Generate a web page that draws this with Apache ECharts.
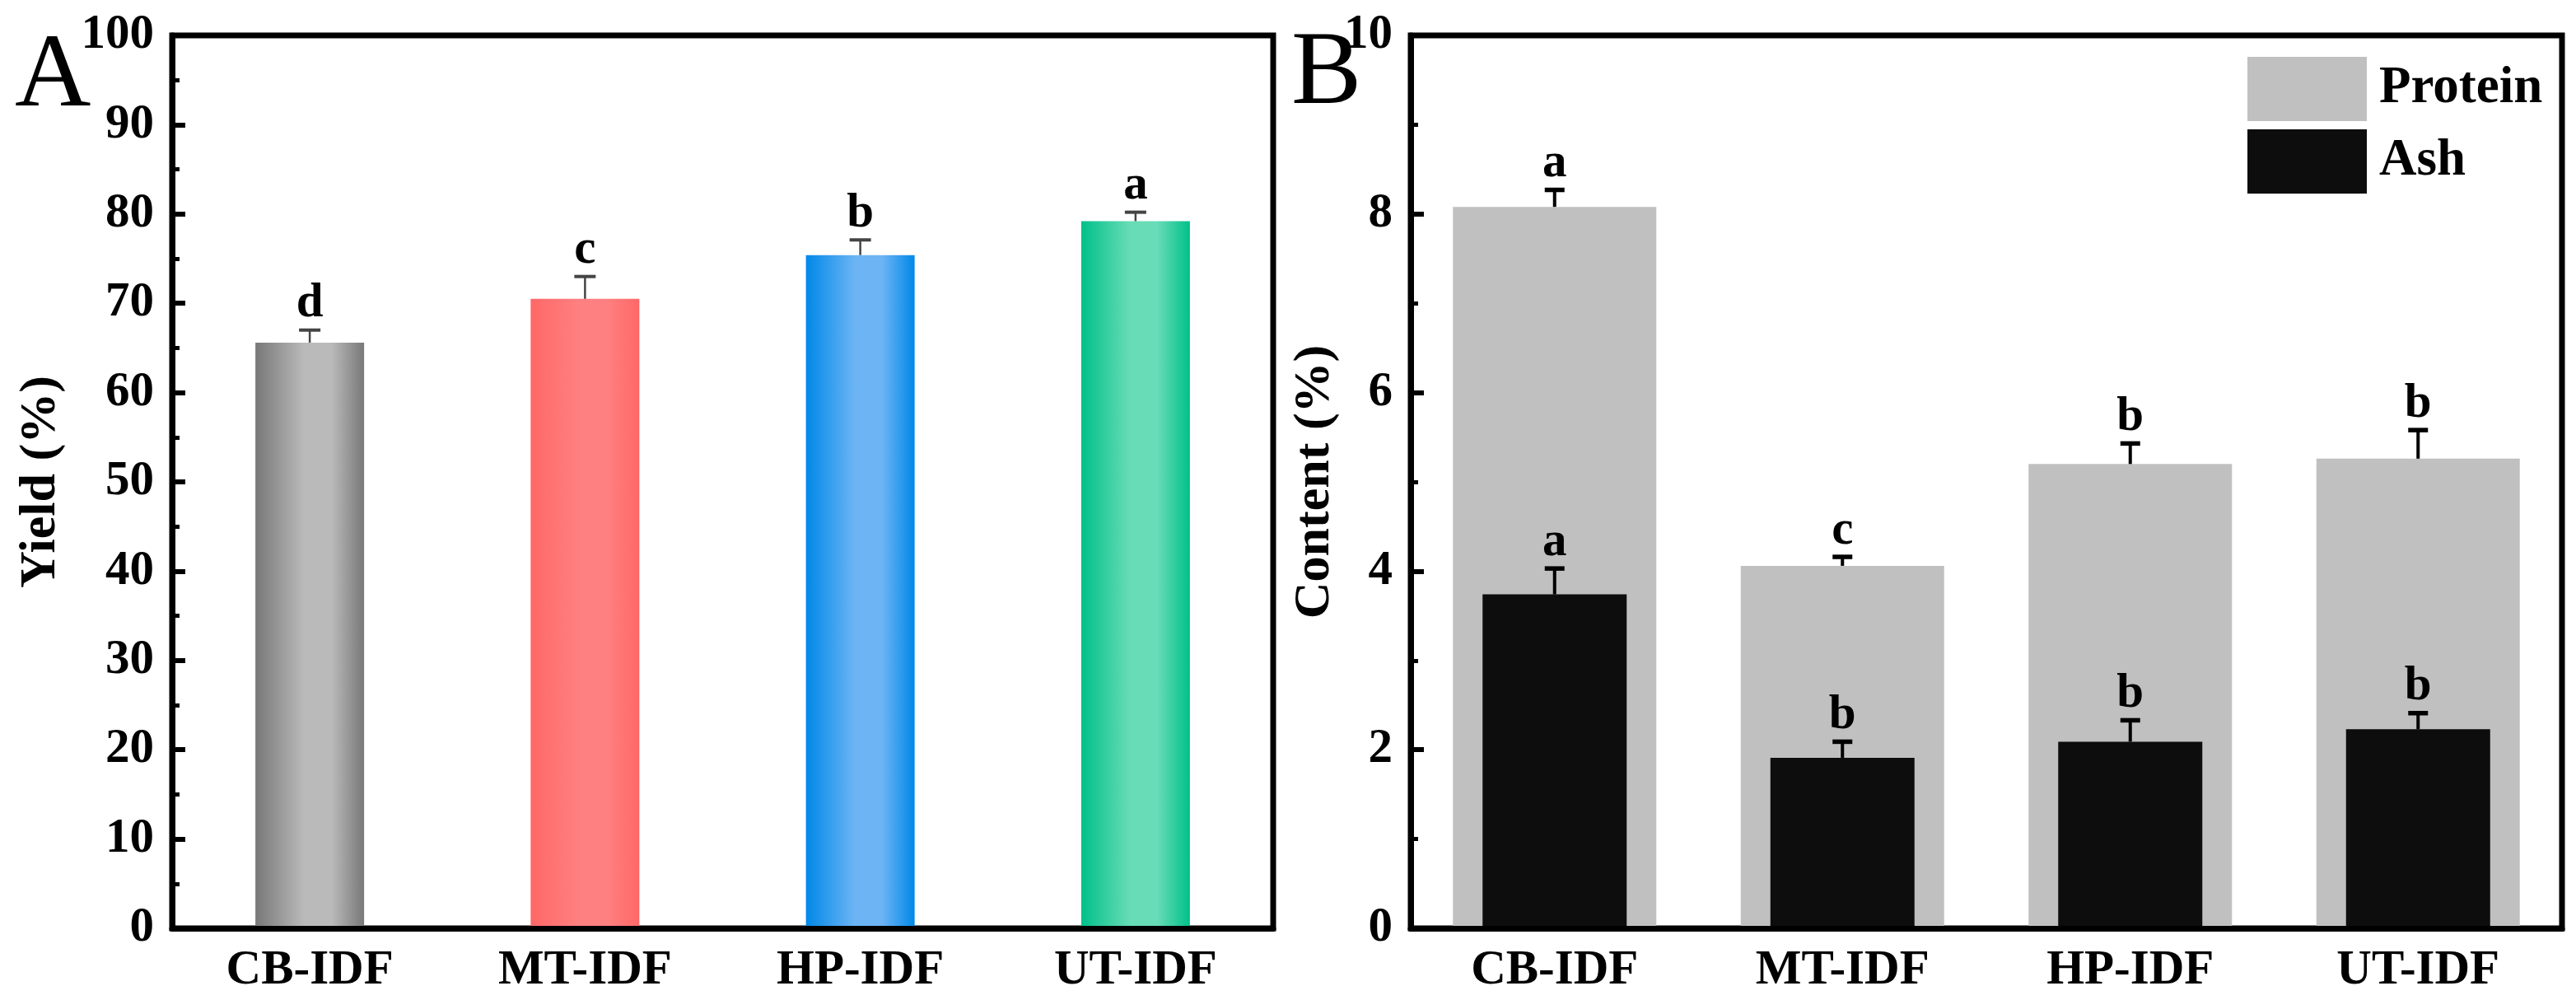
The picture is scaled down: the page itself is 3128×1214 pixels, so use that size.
<!DOCTYPE html>
<html>
<head>
<meta charset="utf-8">
<script src="https://cdn.jsdelivr.net/npm/echarts@6/dist/echarts.min.js"></script>
<style>
html,body{margin:0;padding:0;background:#fff;}
#chart{width:3128px;height:1214px;}
</style>
</head>
<body>
<div id="chart"></div>
<script>
const categories = ['CB-IDF', 'MT-IDF', 'HP-IDF', 'UT-IDF'];
const yieldValues = [65.6, 70.5, 75.4, 79.2];
const yieldErrors = [1.4, 2.5, 1.7, 1.0];
const yieldLetters = ['d', 'c', 'b', 'a'];
const proteinValues = [8.08, 4.06, 5.20, 5.26];
const proteinErrors = [0.19, 0.10, 0.23, 0.32];
const proteinLetters = ['a', 'c', 'b', 'b'];
const ashValues = [3.74, 1.91, 2.09, 2.23];
const ashErrors = [0.29, 0.18, 0.24, 0.18];
const ashLetters = ['a', 'b', 'b', 'b'];
const yieldAxis = { min: 0, max: 100, interval: 10 };
const contentAxis = { min: 0, max: 10, interval: 2 };

const FONT = '"Liberation Serif", "Times New Roman", serif';
const FS = 59;

const barGradients = [
  ['#787878', '#bababa', '#787878'],
  ['#ff6868', '#ff8080', '#ff6868'],
  ['#0088e8', '#6cb4f4', '#0088e8'],
  ['#00c08a', '#68dcb6', '#00c08a']
];
function grad(c) {
  return new echarts.graphic.LinearGradient(0, 0, 1, 0, [
    { offset: 0, color: c[0] },
    { offset: 0.45, color: c[1] },
    { offset: 0.7, color: c[1] },
    { offset: 1, color: c[2] }
  ]);
}

function makeErr(letters, color, lw, cap) {
  return function (params, api) {
    const x = api.value(0), v = api.value(1), e = api.value(2);
    const base = api.coord([x, v]);
    const top = api.coord([x, v + e]);
    return {
      type: 'group',
      children: [
        { type: 'line', shape: { x1: base[0], y1: base[1], x2: top[0], y2: top[1] }, style: { stroke: color, lineWidth: lw } },
        { type: 'line', shape: { x1: top[0] - cap / 2, y1: top[1], x2: top[0] + cap / 2, y2: top[1] }, style: { stroke: color, lineWidth: lw + 1.5 } },
        { type: 'text', x: top[0], y: top[1] - 2, style: { text: letters[params.dataIndex], fill: '#000', font: 'bold ' + FS + 'px ' + FONT, align: 'center', verticalAlign: 'bottom' } }
      ]
    };
  };
}

const axisLabel = { color: '#000', fontFamily: FONT, fontWeight: 'bold', fontSize: FS };
const axisLine = { show: true, lineStyle: { color: '#000', width: 7 } };

function yAx(gridIndex, cfg, name, gap) {
  return {
    type: 'value', gridIndex: gridIndex, min: cfg.min, max: cfg.max, interval: cfg.interval,
    name: name, nameLocation: 'middle', nameGap: gap, nameRotate: 90,
    nameTextStyle: { color: '#000', fontFamily: FONT, fontWeight: 'bold', fontSize: 62 },
    axisLine: axisLine,
    axisTick: { show: true, inside: true, length: 16, lineStyle: { color: '#000', width: 6 } },
    minorTick: { show: true, splitNumber: 2, length: 9, lineStyle: { color: '#000', width: 5 } },
    axisLabel: Object.assign({ margin: 22 }, axisLabel),
    splitLine: { show: false },
    z: 3
  };
}

const chart = echarts.init(document.getElementById('chart'));
chart.setOption({
  backgroundColor: '#fff',
  animation: false,
  grid: [
    { left: 209, top: 43, width: 1337, height: 1084, show: true, borderColor: '#000', borderWidth: 7, backgroundColor: 'transparent' },
    { left: 1713, top: 43, width: 1398, height: 1084, show: true, borderColor: '#000', borderWidth: 7, backgroundColor: 'transparent' }
  ],
  legend: {
    left: 2724, top: 64, orient: 'vertical', itemWidth: 145, itemHeight: 78, itemGap: 10,
    icon: 'rect', selectedMode: false,
    textStyle: { color: '#000', fontFamily: FONT, fontWeight: 'bold', fontSize: 63, padding: [0, 0, 0, 10] },
    data: ['Protein', 'Ash']
  },
  xAxis: [
    { type: 'category', gridIndex: 0, data: categories, axisLine: axisLine, axisTick: { show: false }, axisLabel: Object.assign({ margin: 22 }, axisLabel), z: 3 },
    { type: 'category', gridIndex: 1, data: categories, axisLine: axisLine, axisTick: { show: false }, axisLabel: Object.assign({ margin: 22 }, axisLabel), z: 3 },
    { type: 'category', gridIndex: 1, data: categories, show: false }
  ],
  yAxis: [
    yAx(0, yieldAxis, 'Yield (%)', 128),
    yAx(1, contentAxis, 'Content (%)', 62)
  ],
  graphic: [
    { type: 'text', left: 18, top: 30, style: { text: 'A', fill: '#000', font: '128px ' + FONT } },
    { type: 'text', left: 1568, top: 27, style: { text: 'B', fill: '#000', font: '128px ' + FONT } }
  ],
  series: [
    {
      type: 'bar', xAxisIndex: 0, yAxisIndex: 0, barWidth: 132,
      data: yieldValues.map((v, i) => ({ value: v, itemStyle: { color: grad(barGradients[i]) } }))
    },
    {
      type: 'custom', xAxisIndex: 0, yAxisIndex: 0, z: 5,
      renderItem: makeErr(yieldLetters, '#444', 2.5, 26),
      data: categories.map((c, i) => [i, yieldValues[i], yieldErrors[i]])
    },
    {
      name: 'Protein', type: 'bar', xAxisIndex: 1, yAxisIndex: 1, barWidth: 247,
      itemStyle: { color: '#c0c0c0' }, data: proteinValues
    },
    {
      name: 'Ash', type: 'bar', xAxisIndex: 2, yAxisIndex: 1, barWidth: 175,
      itemStyle: { color: '#0d0d0d' }, data: ashValues
    },
    {
      type: 'custom', xAxisIndex: 1, yAxisIndex: 1, z: 5,
      renderItem: makeErr(proteinLetters, '#000', 4, 24),
      data: categories.map((c, i) => [i, proteinValues[i], proteinErrors[i]])
    },
    {
      type: 'custom', xAxisIndex: 1, yAxisIndex: 1, z: 5,
      renderItem: makeErr(ashLetters, '#000', 4, 24),
      data: categories.map((c, i) => [i, ashValues[i], ashErrors[i]])
    }
  ]
});
</script>
</body>
</html>
